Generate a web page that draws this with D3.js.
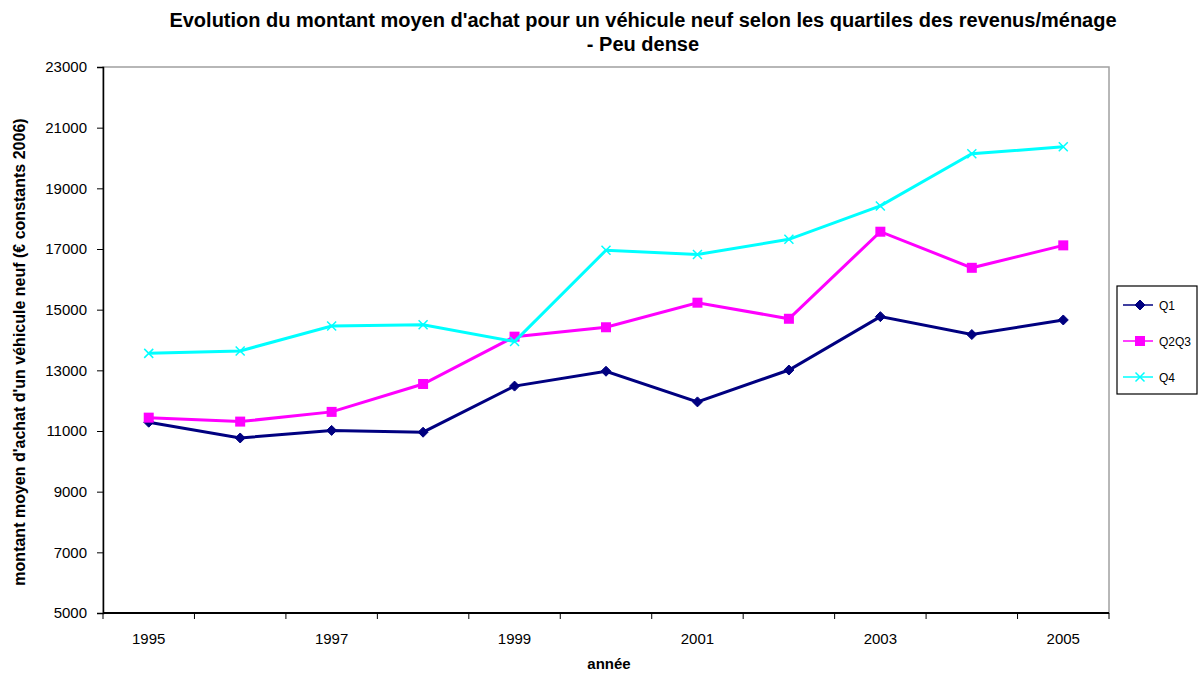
<!DOCTYPE html>
<html><head><meta charset="utf-8">
<script src="https://cdn.jsdelivr.net/npm/d3@7"></script>
<style>body{margin:0;background:#fff;font-family:"Liberation Sans",Arial,sans-serif}</style>
</head><body>
<svg id="c" width="1201" height="673"></svg>
<script>
const years = ["1995","1996","1997","1998","1999","2000","2001","2002","2003","2004","2005"];
const q1 = [11290,10770,11020,10960,12480,12970,11960,13010,14770,14180,14660];
const q2q3 = [11440,11310,11630,12550,14110,14420,15230,14700,17570,16380,17120];
const q4 = [13560,13640,14460,14500,13950,16960,16820,17320,18420,20140,20370];
const yTicks = [5000,7000,9000,11000,13000,15000,17000,19000,21000,23000];
const xTickLabels = ["1995","1997","1999","2001","2003","2005"];
const seriesNames = ["Q1","Q2Q3","Q4"];
const seriesColors = ["#000080","#FF00FF","#00FFFF"];

const series = [
  {name:seriesNames[0], values:q1, color:seriesColors[0], marker:"diamond"},
  {name:seriesNames[1], values:q2q3, color:seriesColors[1], marker:"square"},
  {name:seriesNames[2], values:q4, color:seriesColors[2], marker:"x"}
];

const svg = d3.select("#c");
const L=103, R=1109, T=67, B=613;
const x = d3.scaleBand().domain(years).range([L,R]);
const y = d3.scaleLinear().domain([5000,23000]).range([B,T]);
const font = '"Liberation Sans",Arial,sans-serif';

// plot border
svg.append("rect").attr("x",L).attr("y",T).attr("width",R-L).attr("height",B-T)
  .attr("fill","none").attr("stroke","#a0a0a0").attr("stroke-width",1.5);

// y axis
const ya = svg.append("g").attr("transform",`translate(${L},0)`)
  .call(d3.axisLeft(y).tickValues(yTicks).tickSize(6).tickPadding(10).tickFormat(d3.format("d")));
ya.select(".domain").attr("stroke","#000").attr("stroke-width",1.5);
ya.selectAll("line").attr("stroke","#000");
ya.selectAll("text").attr("font-family",font).attr("font-size","15px").attr("fill","#000");

// x axis
const xa = svg.append("g").attr("transform",`translate(0,${B})`);
xa.append("line").attr("x1",L).attr("x2",R).attr("y1",0).attr("y2",0).attr("stroke","#000").attr("stroke-width",2);
const bounds = years.map(d=>x(d)).concat([R]);
xa.selectAll("line.tk").data(bounds).enter().append("line").attr("class","tk")
  .attr("x1",d=>d).attr("x2",d=>d).attr("y1",0).attr("y2",6).attr("stroke","#000");
xa.selectAll("text").data(xTickLabels).enter().append("text")
  .attr("x",d=>x(d)+x.bandwidth()/2).attr("y",31).attr("text-anchor","middle")
  .attr("font-family",font).attr("font-size","15px").text(d=>d);

// lines
const line = d3.line().x((d,i)=>x(years[i])+x.bandwidth()/2).y(d=>y(d));
function marker(g, type, color, cx, cy){
  if(type==="diamond"){
    g.append("path").attr("d",`M${cx},${cy-5}L${cx+5},${cy}L${cx},${cy+5}L${cx-5},${cy}Z`).attr("fill",color).attr("stroke",color);
  } else if(type==="square"){
    g.append("rect").attr("x",cx-5).attr("y",cy-5).attr("width",10).attr("height",10).attr("fill",color);
  } else {
    g.append("path").attr("d",`M${cx-4.5},${cy-4.5}L${cx+4.5},${cy+4.5}M${cx-4.5},${cy+4.5}L${cx+4.5},${cy-4.5}`).attr("stroke",color).attr("stroke-width",1.5);
  }
}
series.forEach(s=>{
  svg.append("path").datum(s.values).attr("d",line).attr("fill","none")
    .attr("stroke",s.color).attr("stroke-width",3);
  const g = svg.append("g");
  s.values.forEach((v,i)=>marker(g,s.marker,s.color,x(years[i])+x.bandwidth()/2,y(v)));
});

// title
svg.append("text").attr("x",643).attr("y",27).attr("text-anchor","middle")
  .attr("font-family",font).attr("font-weight","bold").attr("font-size","20px")
  .text("Evolution du montant moyen d'achat pour un véhicule neuf selon les quartiles des revenus/ménage");
svg.append("text").attr("x",643).attr("y",51).attr("text-anchor","middle")
  .attr("font-family",font).attr("font-weight","bold").attr("font-size","20px")
  .text("- Peu dense");

// axis titles
svg.append("text").attr("transform","translate(25,352) rotate(-90)").attr("text-anchor","middle")
  .attr("font-family",font).attr("font-weight","bold").attr("font-size","16px")
  .text("montant moyen d'achat  d'un véhicule neuf (€ constants 2006)");
svg.append("text").attr("x",609).attr("y",669).attr("text-anchor","middle")
  .attr("font-family",font).attr("font-weight","bold").attr("font-size","15px").text("année");

// legend
const lg = svg.append("g");
lg.append("rect").attr("x",1117).attr("y",286).attr("width",80).attr("height",108)
  .attr("fill","#fff").attr("stroke","#000").attr("stroke-width",1.2);
series.forEach((s,i)=>{
  const ly = 305 + i*36;
  lg.append("line").attr("x1",1123).attr("x2",1153).attr("y1",ly).attr("y2",ly).attr("stroke",s.color).attr("stroke-width",1.5);
  marker(lg,s.marker,s.color,1140,ly);
  lg.append("text").attr("x",1159).attr("y",ly+4.5).attr("font-family",font).attr("font-size","12px").text(s.name);
});
</script>
</body></html>
